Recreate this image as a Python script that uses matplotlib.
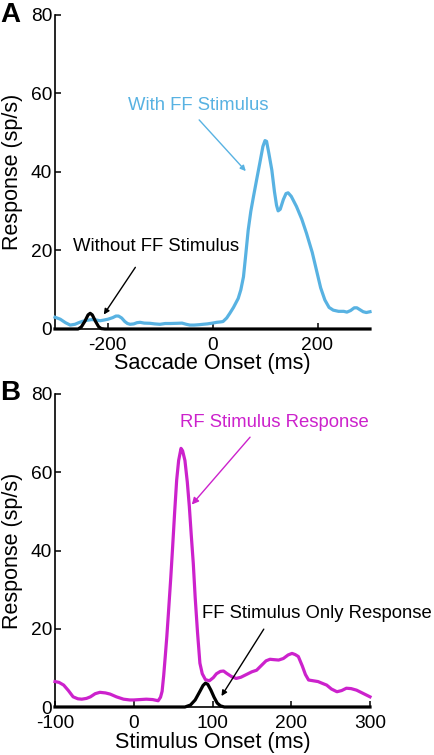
import matplotlib
matplotlib.use("Agg")
import matplotlib.pyplot as plt

plt.rcParams['font.family'] = ['Liberation Sans', 'DejaVu Sans']
plt.rcParams['axes.unicode_minus'] = False

# panel A : saccade aligned
t_a = [-300, -290, -280, -271, -262, -255, -249, -240, -230, -222, -214, -206, -199, -190,
       -184, -179, -173, -167, -162, -157, -150, -144, -138, -130, -119, -110, -100, -90,
       -80, -68, -58, -50, -43, -35, -25, -18, -10, -5, 0, 8, 15, 20, 27, 33, 40, 49, 54,
       59, 63, 68, 73, 78, 84, 90, 96, 100, 103, 107, 113, 118, 122, 125, 129, 135, 140,
       144, 150, 160, 170, 179, 190, 198, 206, 214, 222, 230, 240, 250, 256, 263, 270,
       275, 281, 287, 293, 300]
with_ff = [3.0, 2.5, 1.6, 1.0, 1.2, 1.6, 1.9, 2.2, 2.4, 2.3, 2.1, 2.3, 2.5, 2.9,
           3.3, 3.3, 2.8, 1.9, 1.4, 1.2, 1.3, 1.6, 1.7, 1.5, 1.45, 1.3, 1.2, 1.4,
           1.4, 1.45, 1.5, 1.2, 1.0, 1.0, 1.1, 1.2, 1.3, 1.4, 1.5, 1.7, 1.8, 1.9, 2.8, 4.0, 5.5, 7.8, 10.0,
           13.3, 18.5, 25.2, 30.0, 33.7, 38.0, 42.2, 46.5, 48.0, 47.8, 45.0, 40.5, 35.0, 31.5, 30.1, 30.5, 33.0, 34.5,
           34.7, 33.8, 31.2, 28.0, 24.4, 19.5, 15.0, 10.5, 7.4, 5.5, 4.8, 4.5, 4.5, 4.3, 4.7, 5.4,
           5.4, 4.9, 4.4, 4.2, 4.4]
t_a0 = [-300, -256, -250, -243, -237, -233, -229, -223, -217, -212, -205, 300]
without_ff = [0, 0, 0.5, 2.0, 3.6, 4.0, 3.6, 2.0, 0.6, 0.1, 0, 0]

# panel B : stimulus aligned
t_b = [-100, -95, -89, -83, -77, -71, -66, -60, -55, -49, -43, -36, -30, -22, -13, -5, 0, 8,
       16, 24, 31, 34, 36, 38, 40, 42, 44, 47, 49.4, 52, 54.5, 57, 60, 62, 65, 68, 70.6, 73,
       75.6, 78, 81, 84, 87, 91, 96, 101, 105, 110, 114, 118, 124, 130, 136, 143, 150, 156,
       162, 168, 173, 178, 184, 190, 196, 201, 205, 209, 214, 218, 222, 228, 234, 240, 245,
       251, 258, 264, 270, 276, 283, 290, 296, 300]
rf_resp = [6.5, 6.3, 5.6, 4.2, 2.6, 2.1, 2.0, 2.2, 2.6, 3.4, 3.75, 3.6, 3.3, 2.6, 2.0, 1.8, 1.8, 1.9,
           2.0, 1.9, 1.6, 2.5, 4.0, 8.0, 12.9, 18.0, 23.9, 33.0, 41.0, 50.0, 58.0, 63.0, 66.1, 65.5, 63.0, 57.5, 51.2, 44.0,
           36.7, 28.0, 19.0, 11.2, 8.5, 7.0, 6.7, 7.5, 8.5, 9.1, 9.2, 8.6, 7.8, 7.3, 7.6, 8.3, 9.0, 9.4,
           10.6, 11.8, 12.2, 12.1, 12.0, 12.4, 13.3, 13.7, 13.4, 12.9, 10.5, 8.3, 6.9, 6.7, 6.5, 6.0, 5.6,
           4.6, 3.9, 4.2, 4.8, 4.7, 4.3, 3.6, 3.0, 2.6]
t_b0 = [-100, 65, 72, 78, 84, 88, 91, 94, 98, 102, 106, 110, 115, 300]
ff_only = [0, 0, 0.5, 1.8, 4.0, 5.5, 6.1, 5.8, 4.3, 2.5, 1.0, 0.3, 0, 0]

blue = '#58b2e2'
magenta = '#cc22cc'

fig = plt.figure(figsize=(4.35, 7.55), dpi=100)
axA = fig.add_axes([55/435, 1-329/755, 315/435, 314/755])
axB = fig.add_axes([55/435, 1-707/755, 315/435, 313/755])

for ax in (axA, axB):
    ax.spines['top'].set_visible(False)
    ax.spines['right'].set_visible(False)
    ax.spines['left'].set_linewidth(1.2)
    ax.spines['bottom'].set_linewidth(1.2)
    ax.tick_params(direction='in', length=4, width=1.1, labelsize=13.8, pad=2)
    ax.tick_params(axis='x', pad=6)
    ax.set_ylim(0, 80)
    ax.set_yticks([0, 20, 40, 60, 80])
    ax.set_ylabel('Response (sp/s)', fontsize=15.5)
    ax.yaxis.set_label_coords(-0.10, 0.5)

axA.plot(t_a, with_ff, color=blue, lw=2.3, clip_on=False, zorder=3)
axA.plot(t_a0, without_ff, color='k', lw=2.3, clip_on=False, zorder=4)
axA.set_xlim(-300, 300)
axA.set_xticks([-200, 0, 200])
axA.set_xlabel('Saccade Onset (ms)', fontsize=15.6)
axA.xaxis.set_label_coords(0.5, -0.078)

axA.text(-27, 57, 'With FF Stimulus', color=blue, fontsize=13.3, ha='center', va='center')
axA.annotate('', xy=(67, 39.7), xytext=(-29, 53.8),
             arrowprops=dict(arrowstyle='-|>', color=blue, lw=1, mutation_scale=8))
axA.text(-108, 20.9, 'Without FF Stimulus', color='k', fontsize=13.3, ha='center', va='center')
axA.annotate('', xy=(-210, 3.1), xytext=(-144, 16.3),
             arrowprops=dict(arrowstyle='-|>', color='k', lw=1, mutation_scale=8))

axB.plot(t_b, rf_resp, color=magenta, lw=2.3, clip_on=False, zorder=3)
axB.plot(t_b0, ff_only, color='k', lw=2.3, clip_on=False, zorder=4)
axB.set_xlim(-100, 300)
axB.set_xticks([-100, 0, 100, 200, 300])
axB.set_xlabel('Stimulus Onset (ms)', fontsize=15.6)
axB.xaxis.set_label_coords(0.5, -0.08)

axB.text(179, 72.6, 'RF Stimulus Response', color=magenta, fontsize=13.3, ha='center', va='center')
axB.annotate('', xy=(71.4, 51.2), xytext=(150, 69.5),
             arrowprops=dict(arrowstyle='-|>', color=magenta, lw=1, mutation_scale=10))
axB.text(232, 23.9, 'FF Stimulus Only Response', color='k', fontsize=13.3, ha='center', va='center')
axB.annotate('', xy=(109.5, 2.2), xytext=(167, 20.5),
             arrowprops=dict(arrowstyle='-|>', color='k', lw=1, mutation_scale=8))

fig.text(0.0, 1-15/755, 'A', fontsize=20, fontweight='bold', va='center', ha='left')
fig.text(0.0, 1-393/755, 'B', fontsize=20, fontweight='bold', va='center', ha='left')

fig.savefig('out.png', dpi=100)
